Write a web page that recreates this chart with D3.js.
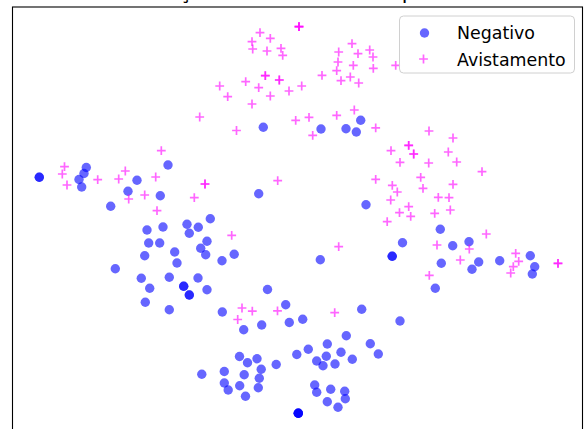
<!DOCTYPE html>
<html>
<head>
<meta charset="utf-8">
<script src="https://cdn.jsdelivr.net/npm/d3@7"></script>
<style>
  html, body { margin: 0; padding: 0; background: #fff; }
  svg { display: block; }
</style>
</head>
<body>
<svg id="chart" width="584" height="429"></svg>
<script>
// 2-D embedding coordinates for each class (repeated pairs are coincident samples)
const negativo = [
  [26.3,262.7],[26.3,262.7],[73.3,272.5],[71,266.5],[66,260.5],[68.7,253],[155,275],[124,259.7],
  [115,248.7],[147.3,244.3],[97.7,233.7],[250.3,312.7],[245.7,246.3],[197.3,221.2],[174,215.7],
  [185.3,212.7],[176.3,206.7],[150,213],[134,210],[135.7,197],[146.7,197],[194,198.8],[187.7,191.8],
  [192.7,185.3],[161.7,188],[131.7,184.3],[164,177],[209,179.2],[221.2,185.7],[102.3,171.3],
  [128.3,161.7],[156.3,162.7],[185,162],[136.7,151.7],[194,150.3],[170.7,153.7],[170.7,153.7],
  [176.3,145],[176.3,145],[132.3,137.7],[156.3,130.3],[254.5,150.5],[209.3,128],[272.7,135.3],
  [276.3,117.5],[289.7,120.7],[230.7,110.3],[248.7,115],[283.8,85.5],[226.5,83.5],[234.5,77.3],
  [244,81.2],[248.2,70.8],[263.2,75.5],[188.8,65.8],[211.3,68.5],[231.2,65.3],[246.3,61.8],
  [211.3,57],[215.2,50],[226.7,54.2],[245.3,52.2],[232.5,43.8],
  [285.3,26.7],[285.3,26.7],[285.3,26.7],[285.3,26.7],
  [353,235.3],[307.3,180.3],[379.2,183.7],[379.2,183.7],[389.5,197.3],[348.7,130.7],[387,119],
  [333.3,104.3],[314.3,96],[295.3,90.7],[357.3,96.3],[365.3,86],[328,87.7],[313.3,83.7],
  [303.7,79],[310,74.3],[322,76],[339.3,80.7],[301.7,55],[303.7,47.7],[317.7,50.7],[331.7,48.7],
  [332.3,41.3],[314.3,38.3],[325,32.7],[308,311],[333,311.3],[347.7,319.7],[343.3,308],
  [427.3,210.7],[439.7,194.3],[456,198.3],[428.3,176.7],[465.7,178],[459,170.7],[486.7,179.3],
  [517.3,184.3],[521.7,173.3],[519.3,166],[422.3,151.7]
];

const avistamento = [
  [239,336],[186.7,323],[223.5,309.5],[282.7,319.7],[148.3,289.3],[51.5,273.3],[49.3,266],[54,255],
  [84.7,260.3],[112.3,269],[105.7,261],[142.7,263],[115.7,241],[131.7,245],[144,229.3],
  [192,256],[192,256],[181.3,242.3],[264.7,259.3],[218.7,204.7],[229,132],[239.3,128.8],
  [224.7,120.5],[264.5,129.2],[321.7,127.3],[325.7,193.3],[377.7,240],[386.5,227.3],[374.2,218.3],
  [286,413.3],[286,413.3],[286,413.3],
  [247,407.3],[257.3,401.7],[239,398.3],[239.7,391],[254,389],[268,391.7],[269.7,384.7],
  [339,396.3],[325.7,388],[345,386.3],[356.7,390],[360,383],[325,378],[340.3,374.7],[360.3,371.7],
  [382.7,374.7],[323.7,369.3],[328,359.3],[337.3,363],[345.7,357],[309,364.7],
  [252.3,364.3],[252.3,364.3],[266.3,360],[266.3,360],
  [232.7,358.3],[206.7,354],[245.7,352.3],[276,349],[288.7,354],[214.7,343.3],[257.3,344],
  [296,322.7],[323.7,324.7],[341.3,330],[299.7,304.7],[362.7,312.2],[416,309],[440,302],
  [395.7,294.7],[395.7,294.7],[400.7,286],[400.7,286],
  [378,289.3],[435.3,288],[387,277.7],[415.7,277],[443.7,278],[469,268.3],[362.7,260.7],
  [407.7,262.7],[379.3,254.7],[384.3,248],[410,251.7],[440,255.7],[425.3,242.7],[436,242.3],
  [395.7,233.3],[397.7,223.7],[421.7,226.7],[437.3,230],[473.3,206],[424,195],[456.3,191],
  [502.7,186.7],[505.7,178.7],[500.3,173.3],[497.7,167],[545,176.7],[545,176.7],[447.3,180],
  [416.3,164.7]
];

const seriesNames = ["Negativo", "Avistamento"];
const seriesColors = ["blue", "magenta"];
const titleText = "Visualização t-SNE dos dados por classe";

const svg = d3.select("#chart");
const margin = { left: 12.5, top: 7, right: 1.5 };
const plotW = 584 - margin.left - margin.right;
const plotBottom = 440;

const x = d3.scaleLinear().domain([-0.5, 569.5]).range([margin.left, margin.left + plotW]);
const y = d3.scaleLinear().domain([0, plotBottom - margin.top]).range([plotBottom, margin.top]);

// Title, placed above the axes frame at the top edge of the figure
svg.append("text")
  .attr("x", margin.left + plotW / 2)
  .attr("y", -0.8)
  .attr("text-anchor", "middle")
  .attr("font-family", "DejaVu Sans, sans-serif")
  .attr("font-size", 21)
  .attr("fill", "#000")
  .text(titleText);

const plot = svg.append("g");

// Negativo: filled circles
plot.append("g").selectAll("circle")
  .data(negativo)
  .join("circle")
  .attr("cx", d => x(d[0]))
  .attr("cy", d => y(d[1]))
  .attr("r", 4.7)
  .attr("fill", seriesColors[0])
  .attr("fill-opacity", 0.6);

// Avistamento: plus markers
const plusPath = s => `M${-s},0H${s}M0,${-s}V${s}`;
plot.append("g").selectAll("path")
  .data(avistamento)
  .join("path")
  .attr("transform", d => `translate(${x(d[0])},${y(d[1])})`)
  .attr("d", plusPath(4.4))
  .attr("fill", "none")
  .attr("stroke", seriesColors[1])
  .attr("stroke-opacity", 0.6)
  .attr("stroke-width", 1.7);

// Axes frame
svg.append("rect")
  .attr("x", margin.left)
  .attr("y", margin.top)
  .attr("width", plotW)
  .attr("height", plotBottom - margin.top)
  .attr("fill", "none")
  .attr("stroke", "#000")
  .attr("stroke-width", 1.1);

// Legend
const legend = svg.append("g").attr("transform", "translate(399.5,16)");
legend.append("rect")
  .attr("width", 175)
  .attr("height", 57)
  .attr("rx", 4)
  .attr("fill", "#fff")
  .attr("fill-opacity", 0.8)
  .attr("stroke", "#d0d0d0")
  .attr("stroke-width", 1);

const rows = legend.selectAll("g.row")
  .data(seriesNames)
  .join("g")
  .attr("class", "row")
  .attr("transform", (d, i) => `translate(0,${17 + i * 26})`);

rows.each(function(d, i) {
  const g = d3.select(this);
  if (i === 0) {
    g.append("circle").attr("cx", 25).attr("cy", 0).attr("r", 4.7)
      .attr("fill", seriesColors[0]).attr("fill-opacity", 0.6);
  } else {
    g.append("path").attr("transform", "translate(24,0)").attr("d", plusPath(4.4))
      .attr("stroke", seriesColors[1]).attr("stroke-opacity", 0.6).attr("stroke-width", 1.7);
  }
  g.append("text")
    .attr("x", 57.5)
    .attr("y", 4.3 + (i === 0 ? 0 : 0.5))
    .attr("dy", "0.1em")
    .attr("font-family", "DejaVu Sans, sans-serif")
    .attr("font-size", 17.4)
    .attr("fill", "#000")
    .text(d);
});
</script>
</body>
</html>
